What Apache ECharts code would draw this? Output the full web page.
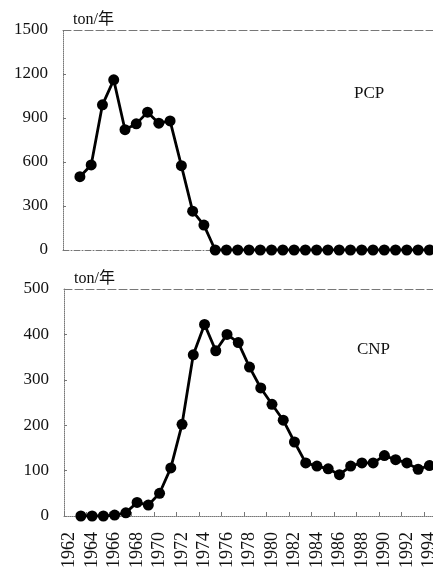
<!DOCTYPE html>
<html>
<head>
<meta charset="utf-8">
<script src="https://cdn.jsdelivr.net/npm/echarts@6/dist/echarts.min.js"></script>
<style>
  html, body { margin: 0; padding: 0; background: #fff; }
  #main { width: 433px; height: 568px; }
</style>
</head>
<body>
<div id="main"></div>
<script>
// years on the x axis (1962 has no value)
var years = [];
for (var y = 1962; y <= 1994; y++) years.push(String(y));

// PCP, ton/年, 1962..1994
var pcp = [null, 500, 580, 990, 1160, 820, 860, 940, 865, 880, 575, 265, 170,
  0, 0, 0, 0, 0, 0, 0, 0, 0, 0, 0, 0, 0, 0, 0, 0, 0, 0, 0, 0, 0];

// CNP, ton/年, 1962..1994
var cnp = [null, 0, 0, 0, 2, 7, 30, 24, 50, 106, 202, 355, 422,
  364, 400, 382, 328, 282, 246, 211, 163, 117, 110, 104, 91,
  110, 117, 117, 133, 124, 117, 103, 111];

var serif = "'Liberation Serif', 'Noto Sans CJK JP', serif";
var grey = "#777";

var myChart = echarts.init(document.getElementById("main"));

function yAxisOf(idx, max, step) {
  return {
    gridIndex: idx,
    type: "value",
    min: 0,
    max: max,
    interval: step,
    name: "ton/年",
    nameLocation: "end",
    nameGap: 2,
    nameTextStyle: {
      fontFamily: serif,
      fontSize: 16,
      color: "#111",
      align: "left",
      padding: [0, 0, 0, 10]
    },
    axisLine: { show: true, lineStyle: { color: grey, type: "dotted", width: 1 } },
    axisTick: { show: true, inside: true, length: 3, lineStyle: { color: grey } },
    splitLine: { show: false },
    axisLabel: {
      fontFamily: serif, fontSize: 17, color: "#111", margin: 15,
      formatter: function (v) { return String(v); }
    }
  };
}

var option = {
  animation: false,
  title: [
    { text: "PCP", left: 349, top: 80, textStyle: { fontFamily: serif, fontSize: 17, fontWeight: "normal", color: "#111" } },
    { text: "CNP", left: 352, top: 336, textStyle: { fontFamily: serif, fontSize: 17, fontWeight: "normal", color: "#111" } }
  ],
  grid: [
    { left: 63, right: -2, top: 30, height: 220, outerBoundsMode: "none", containLabel: false },
    { left: 64, right: -2, top: 289, height: 227, outerBoundsMode: "none", containLabel: false }
  ],
  xAxis: [
    {
      gridIndex: 0, type: "category", data: years,
      axisLine: { lineStyle: { color: grey, type: [6, 2, 1, 2], width: 1 } },
      axisTick: { show: false },
      axisLabel: { show: false }
    },
    {
      gridIndex: 0, type: "category", data: years, position: "top",
      axisLine: { lineStyle: { color: grey, type: [8, 3], width: 1 } },
      axisTick: { show: false },
      axisLabel: { show: false }
    },
    {
      gridIndex: 1, type: "category", data: years,
      axisLine: { lineStyle: { color: grey, type: "dotted", width: 1 } },
      axisTick: { show: true, inside: true, length: 4, lineStyle: { color: grey } },
      axisLabel: {
        rotate: 90, interval: 1, margin: 16,
        fontFamily: serif, fontSize: 18, color: "#111"
      }
    },
    {
      gridIndex: 1, type: "category", data: years, position: "top",
      axisLine: { lineStyle: { color: grey, type: [8, 3], width: 1 } },
      axisTick: { show: false },
      axisLabel: { show: false }
    }
  ],
  yAxis: [yAxisOf(0, 1500, 300), yAxisOf(1, 500, 100)],
  series: [
    {
      name: "PCP", type: "line", xAxisIndex: 0, yAxisIndex: 0, data: pcp,
      symbol: "circle", symbolSize: 11, showAllSymbol: true,
      lineStyle: { color: "#000", width: 2.8 },
      itemStyle: { color: "#000" }
    },
    {
      name: "CNP", type: "line", xAxisIndex: 2, yAxisIndex: 1, data: cnp,
      symbol: "circle", symbolSize: 11, showAllSymbol: true,
      lineStyle: { color: "#000", width: 2.8 },
      itemStyle: { color: "#000" }
    }
  ]
};

myChart.setOption(option);
</script>
</body>
</html>
